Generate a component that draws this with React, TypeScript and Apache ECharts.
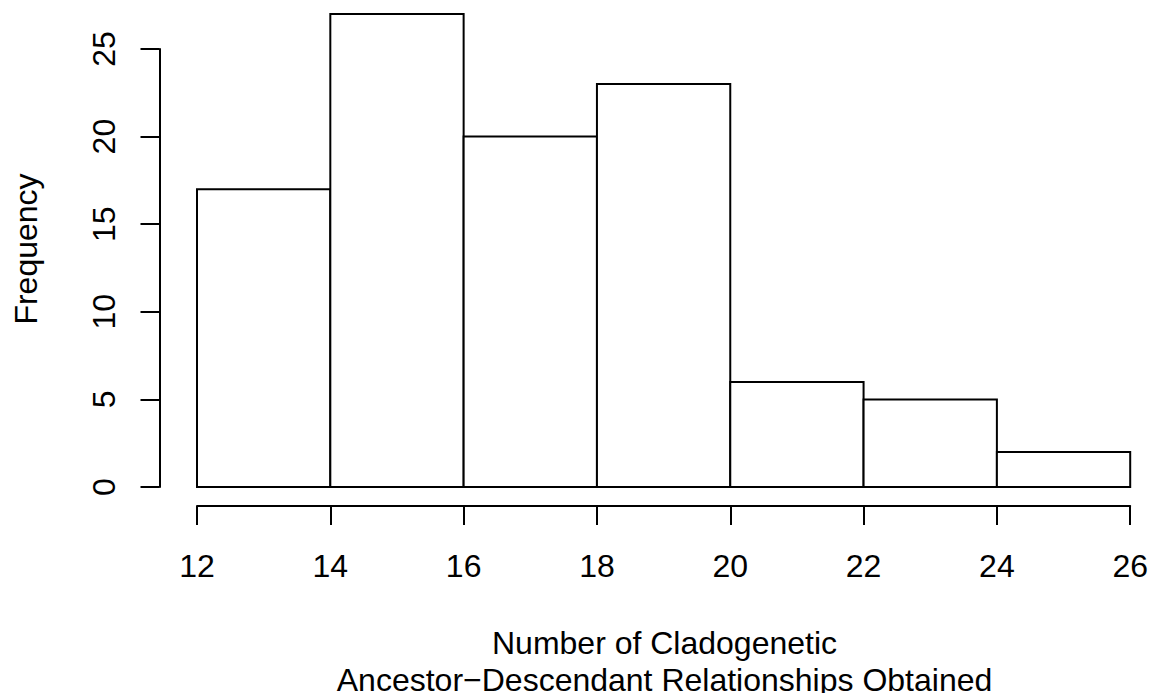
import React, { useEffect, useRef } from "react";
import * as echarts from "echarts";

const binStarts = [12, 14, 16, 18, 20, 22, 24];
const binEnds = [14, 16, 18, 20, 22, 24, 26];
const counts = [17, 27, 20, 23, 6, 5, 2];
const xTicks = [12, 14, 16, 18, 20, 22, 24, 26];
const yTicks = [0, 5, 10, 15, 20, 25];
const xTitle = "Number of Cladogenetic\nAncestor\u2212Descendant Relationships Obtained";
const yTitle = "Frequency";

const FONT = '"Liberation Sans", Arial, Helvetica, sans-serif';
const FS = 32;

export default function App() {
  const ref = useRef<HTMLDivElement>(null);
  useEffect(() => {
    if (!ref.current) return;
    const chart = echarts.init(ref.current, undefined, { renderer: "svg" });
    const data = binStarts.map((s, i) => [s, binEnds[i], counts[i]]);
    chart.setOption({
      animation: false,
      backgroundColor: "#ffffff",
      grid: { left: 197, right: 19, top: 49, bottom: 206, containLabel: false },
      xAxis: {
        type: "value",
        min: xTicks[0],
        max: xTicks[xTicks.length - 1],
        interval: 2,
        offset: 19,
        splitLine: { show: false },
        axisLine: { show: true, onZero: false, lineStyle: { color: "#000", width: 2 } },
        axisTick: { show: true, length: 19, lineStyle: { color: "#000", width: 2 } },
        axisLabel: { show: true, color: "#000", fontSize: FS, fontFamily: FONT, margin: 44 },
      },
      yAxis: {
        type: "value",
        min: yTicks[0],
        max: yTicks[yTicks.length - 1],
        interval: 5,
        offset: 37.5,
        splitLine: { show: false },
        axisLine: { show: true, lineStyle: { color: "#000", width: 2 } },
        axisTick: { show: true, length: 19, lineStyle: { color: "#000", width: 2 } },
        axisLabel: { show: true, color: "#000", fontSize: FS, fontFamily: FONT, margin: 40, rotate: 90 },
      },
      series: [
        {
          type: "custom",
          clip: false,
          encode: { x: [0, 1], y: 2 },
          data,
          renderItem: (params: any, api: any) => {
            const p0 = api.coord([api.value(0), api.value(2)]);
            const p1 = api.coord([api.value(1), 0]);
            return {
              type: "rect",
              shape: { x: p0[0], y: p0[1], width: p1[0] - p0[0], height: p1[1] - p0[1] },
              style: { fill: "#ffffff", stroke: "#000000", lineWidth: 2 },
            };
          },
        },
      ],
      graphic: [
        {
          type: "text",
          x: 664.5,
          y: 661.5,
          style: {
            text: xTitle,
            fill: "#000",
            fontSize: FS,
            fontFamily: FONT,
            lineHeight: 37,
            align: "center",
            verticalAlign: "middle",
          },
        },
        {
          type: "text",
          x: 25.5,
          y: 249,
          rotation: Math.PI / 2,
          style: {
            text: yTitle,
            fill: "#000",
            fontSize: FS,
            fontFamily: FONT,
            align: "center",
            verticalAlign: "middle",
          },
        },
      ],
    });
    return () => chart.dispose();
  }, []);
  return (
    <div
      ref={ref}
      style={{ position: "fixed", left: 0, top: 0, width: 1151, height: 693, background: "#fff" }}
    />
  );
}
